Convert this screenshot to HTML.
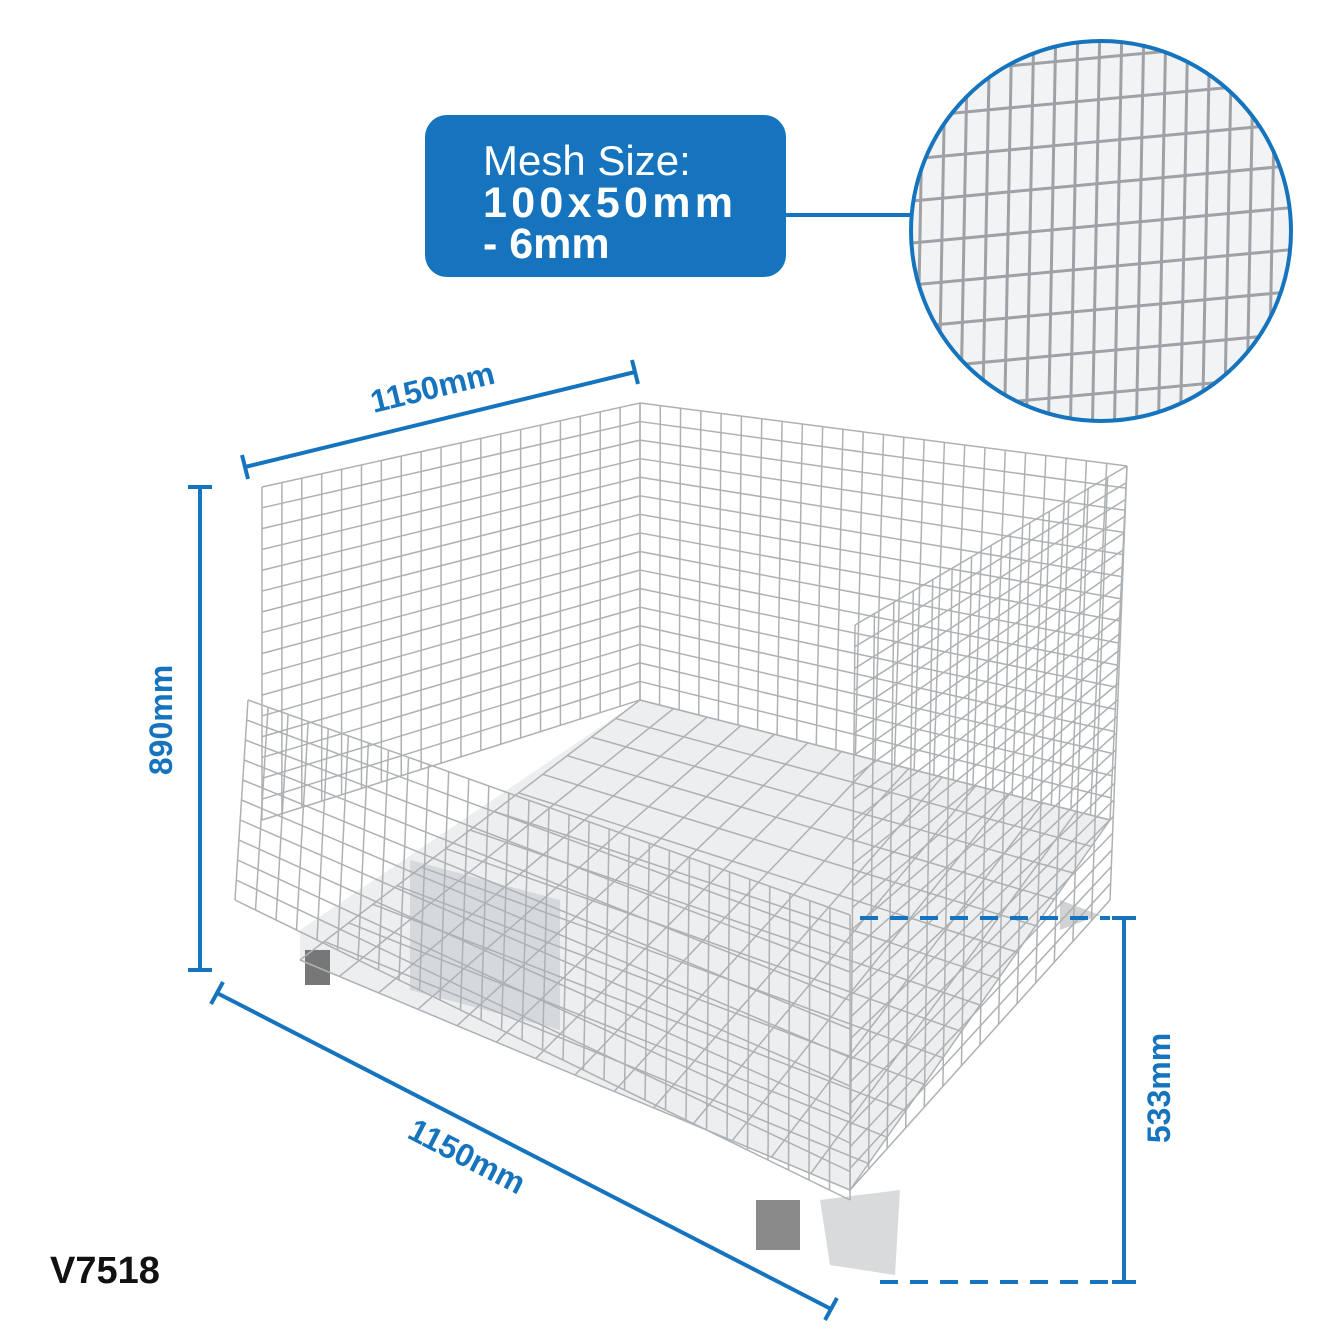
<!DOCTYPE html>
<html><head><meta charset="utf-8"><style>
html,body{margin:0;padding:0;background:#fff;}
svg{display:block;}
text{font-family:"Liberation Sans",sans-serif;}
</style></head><body>
<svg id="s" width="1333" height="1333" viewBox="0 0 1333 1333" xmlns="http://www.w3.org/2000/svg">
<defs><clipPath id="cc"><circle cx="1101" cy="231" r="189"/></clipPath></defs>
<rect width="1333" height="1333" fill="#fff"/>
<!-- floor -->
<polygon points="300,930 640,700 1110,820 850,1190 300,960" fill="#eceef0"/>
<polygon points="410,860 560,900 560,1030 410,990" fill="#d6d9dc"/>
<polygon points="305,950 330,950 330,985 305,985" fill="#777"/>
<polygon points="756,1200 800,1200 800,1250 756,1250" fill="#8a8a8a"/>
<polygon points="820,1200 900,1190 895,1275 830,1265" fill="#d8dadc"/>
<polygon points="1060,900 1100,915 1060,930" fill="#d0d2d4"/>
<g id="mesh" stroke="#aeb1b4" stroke-width="1.5" fill="none"></g>
<g clip-path="url(#cc)"><rect x="900" y="30" width="410" height="410" fill="#f2f3f4"/><g id="mesh2" stroke="#9ea2a6" stroke-width="3" fill="none"></g></g>
<circle cx="1101" cy="231" r="190" fill="none" stroke="#1574bd" stroke-width="4"/>
<!-- callout -->
<rect x="425" y="115" width="361" height="162" rx="22" fill="#1574bd"/>
<line x1="786" y1="215" x2="911" y2="215" stroke="#1574bd" stroke-width="4"/>
<text x="483" y="175" fill="#fff" font-size="42" font-weight="300">Mesh Size:</text>
<text x="483" y="217" fill="#fff" font-size="43" font-weight="700" textLength="250">100x50mm</text>
<text x="483" y="258" fill="#fff" font-size="43" font-weight="700">- 6mm</text>
<g stroke="#1574bd" stroke-width="4" fill="none">
<line x1="245" y1="467" x2="635" y2="372"/><line x1="242" y1="455" x2="248" y2="479"/><line x1="632" y1="360" x2="638" y2="384"/>
<line x1="200" y1="487" x2="200" y2="970"/><line x1="188" y1="487" x2="212" y2="487"/><line x1="188" y1="970" x2="212" y2="970"/>
<line x1="217" y1="993" x2="831" y2="1309"/><line x1="223" y1="982" x2="211" y2="1004"/><line x1="837" y1="1298" x2="825" y2="1320"/>
<line x1="1124" y1="918" x2="1124" y2="1282"/><line x1="1112" y1="918" x2="1136" y2="918"/><line x1="1112" y1="1282" x2="1136" y2="1282"/>
<line x1="860" y1="918" x2="1110" y2="918" stroke-dasharray="18,12"/>
<line x1="880" y1="1282" x2="1110" y2="1282" stroke-dasharray="18,12"/>
</g>
<g fill="#1574bd" font-size="32" font-weight="700">
<text transform="translate(435,398) rotate(-13.7)" text-anchor="middle">1150mm</text>
<text transform="translate(172,720) rotate(-90)" text-anchor="middle">890mm</text>
<text transform="translate(462,1166) rotate(27.2)" text-anchor="middle">1150mm</text>
<text transform="translate(1170,1088) rotate(-90)" text-anchor="middle">533mm</text>
</g>
<text x="50" y="1283" font-size="38" font-weight="700" fill="#111">V7518</text>
</svg>
<script>
function L(g,a,b){var l=document.createElementNS("http://www.w3.org/2000/svg","line");l.setAttribute("x1",a[0]);l.setAttribute("y1",a[1]);l.setAttribute("x2",b[0]);l.setAttribute("y2",b[1]);g.appendChild(l);}
function lerp(a,b,t){return[a[0]+(b[0]-a[0])*t,a[1]+(b[1]-a[1])*t];}
function quad(g,tl,tr,br,bl,nu,nv){for(var i=0;i<=nu;i++){var t=i/nu;L(g,lerp(tl,tr,t),lerp(bl,br,t));}for(var j=0;j<=nv;j++){var t=j/nv;L(g,lerp(tl,bl,t),lerp(tr,br,t));}}
var g=document.getElementById("mesh");
quad(g,[640,700],[1110,820],[850,1190],[300,960],14,14);
quad(g,[262,487],[640,403],[640,700],[262,820],19,16);
quad(g,[640,403],[1127,466],[1110,820],[640,700],24,16);
quad(g,[855,625],[1127,466],[1110,900],[850,1190],14,26);
quad(g,[248,700],[850,915],[850,1200],[235,900],30,10);
var g2=document.getElementById("mesh2");
for(var x=880;x<1320;x+=22)L(g2,[x,20],[x-8,450]);
for(var y=20;y<480;y+=42)L(g2,[890,y+15],[1320,y-25]);
</script>
</body></html>
